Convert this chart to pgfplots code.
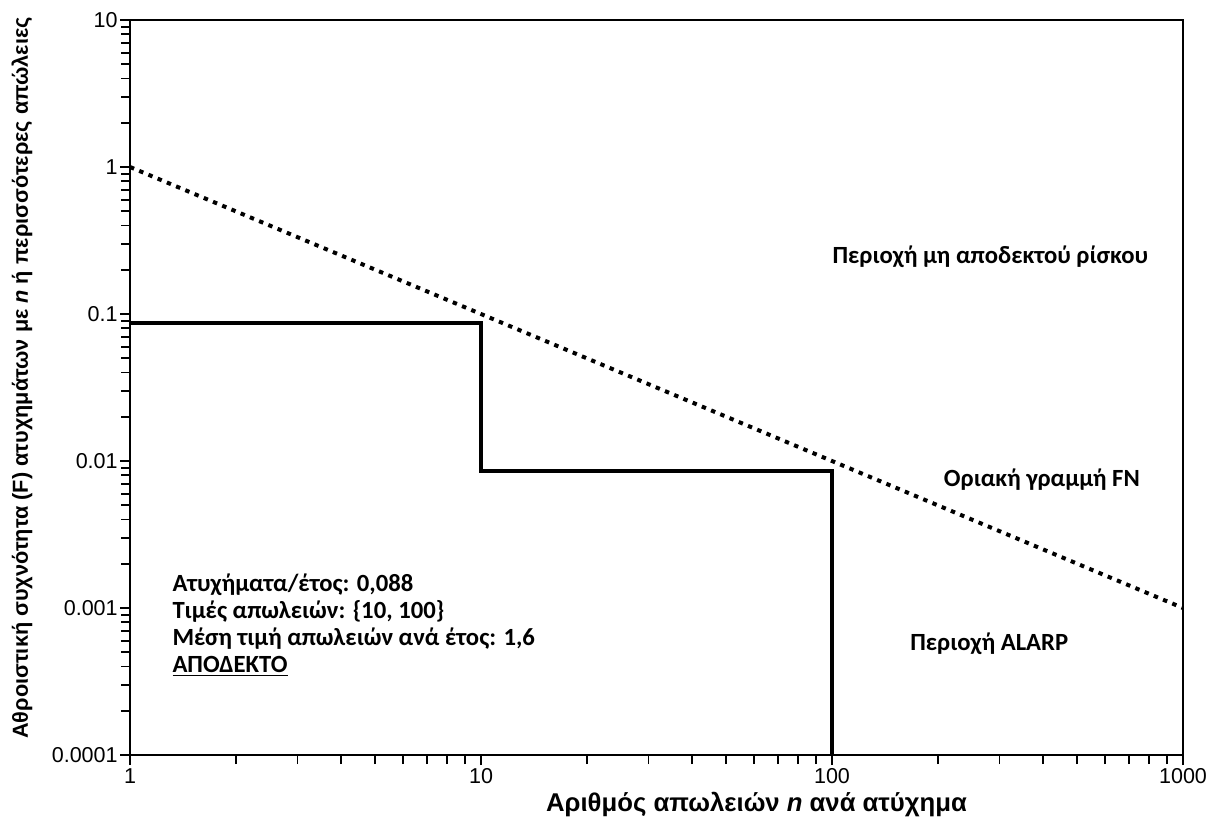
\documentclass[border=0pt]{standalone}
\usepackage{pgfplots}
\pgfplotsset{compat=1.18}
\usepackage{fontspec}
\setmainfont{Liberation Sans}
\newfontfamily\calfont{Carlito}
\begin{document}
\begin{tikzpicture}
\begin{axis}[
  scale only axis, width=526.5bp, height=367.5bp,
  xmode=log, ymode=log, xmin=1, xmax=1000, ymin=1e-4, ymax=10,
  xtick={1,10,100,1000}, xticklabels={1,10,100,1000},
  ytick={1e-4,1e-3,1e-2,1e-1,1,10}, yticklabels={0.0001,0.001,0.01,0.1,1,10},
  minor xtick={2,3,4,5,6,7,8,9,20,30,40,50,60,70,80,90,200,300,400,500,600,700,800,900},
  minor ytick={2e-4,3e-4,4e-4,5e-4,6e-4,7e-4,8e-4,9e-4,2e-3,3e-3,4e-3,5e-3,6e-3,7e-3,8e-3,9e-3,2e-2,3e-2,4e-2,5e-2,6e-2,7e-2,8e-2,9e-2,0.2,0.3,0.4,0.5,0.6,0.7,0.8,0.9,2,3,4,5,6,7,8,9},
  tick pos=left, tick align=outside,
  major tick length=5bp, minor tick length=4.5bp,
  axis line style={line width=1bp},
  every tick/.style={line width=0.9bp, black},
  ticklabel style={font=\fontsize{10.8}{12}\selectfont},
  yticklabel style={inner sep=1bp},
  xticklabel style={inner sep=1.5bp},
  every axis y label/.style={at={(axis description cs:-0.1026,0.513)}, rotate=90, anchor=center},
  every axis x label/.style={at={(axis description cs:0.595,-0.068)}, anchor=center},
  xlabel={\fontsize{12.9}{14}\selectfont\bfseries Αριθμός απωλειών \textit{n} ανά ατύχημα},
  ylabel={\fontsize{10.9}{13}\selectfont\bfseries Αθροιστική συχνότητα (F) ατυχημάτων με \textit{n} ή περισσότερες απώλειες},
  clip=false,
]
\addplot[line width=2bp, black] coordinates {(1,0.087) (10,0.087) (10,0.0086) (100,0.0086) (100,0.0001)};
\addplot[line width=2bp, black, dash pattern=on 2.2bp off 2.8bp] coordinates {(1,1) (1000,0.001)};
\node[anchor=north west, align=left, inner sep=0pt, font=\calfont\bfseries\fontsize{12.4}{13.6}\selectfont]
  at (rel axis cs:0.040,0.247)
  {Ατυχήματα/έτος: 0,088\\Τιμές απωλειών: \{10, 100\}\\Μέση τιμή απωλειών ανά έτος: 1,6\\\underline{ΑΠΟΔΕΚΤΟ}};
\node[font=\calfont\bfseries\fontsize{12.4}{13.6}\selectfont] at (rel axis cs:0.817,0.678) {Περιοχή μη αποδεκτού ρίσκου};
\node[font=\calfont\bfseries\fontsize{12.4}{13.6}\selectfont] at (rel axis cs:0.866,0.374) {Οριακή γραμμή FN};
\node[font=\calfont\bfseries\fontsize{12.4}{13.6}\selectfont] at (rel axis cs:0.816,0.152) {Περιοχή ALARP};
\end{axis}
\pgfresetboundingbox
\path[use as bounding box] ([xshift=-65bp,yshift=-33bp]current axis.south west) rectangle ([xshift=19.5bp,yshift=10bp]current axis.north east);
\end{tikzpicture}
\end{document}
